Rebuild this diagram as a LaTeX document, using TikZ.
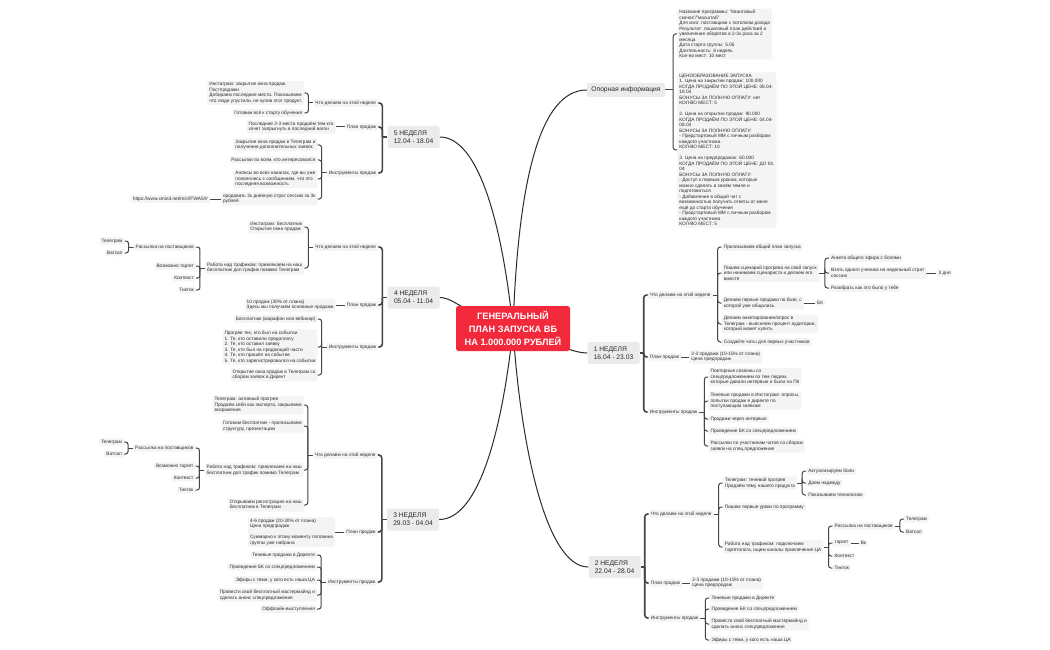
\documentclass[tikz,border=0pt]{standalone}
\usepackage{fontspec}
\setmainfont{Liberation Sans}
\pgfdeclarelayer{bg}
\pgfsetlayers{bg,main}
\definecolor{hubred}{HTML}{F2283B}
\definecolor{wkfill}{HTML}{EBEBEB}
\definecolor{lffill}{HTML}{F4F4F4}
\definecolor{txcol}{HTML}{2B2B2B}
\definecolor{lncol}{HTML}{454545}
\tikzset{
  leaf/.style={fill=lffill, rounded corners=1.5pt, inner xsep=2pt, inner ysep=1.6pt,
    font=\fontsize{4.75}{5.5}\selectfont, text=txcol, align=left},
  lr/.style={leaf, anchor=west},
  ll/.style={leaf, anchor=east},
  week/.style={fill=wkfill, rounded corners=2pt, font=\fontsize{6.7}{8.3}\selectfont,
    text=txcol, align=left, minimum width=52pt, minimum height=22pt},
  hub/.style={fill=hubred, rounded corners=2.5pt, text=white,
    font=\bfseries\fontsize{9.2}{12.7}\selectfont, align=center,
    minimum width=114pt, minimum height=45pt},
  c1/.style={draw=lncol, line width=1.6pt, rounded corners=3pt},
  c2/.style={draw=lncol, line width=1pt, rounded corners=2.5pt},
  cc/.style={draw=txcol, line width=1pt},
}
\begin{document}
\begin{tikzpicture}[x=1pt, y=-1pt]
\useasboundingbox (0,0) rectangle (1050,650);

% ---------- hub and main branches ----------
\node[hub] (hub) at (513,328.5) {ГЕНЕРАЛЬНЫЙ\\ПЛАН ЗАПУСКА ВБ\\НА 1.000.000 РУБЛЕЙ};
\node[week, minimum width=78pt, minimum height=14pt] (op) at (626,90) {Опорная информация};
\node[week] (w5) at (413.5,137) {5 НЕДЕЛЯ\\12.04 - 18.04};
\node[week] (w4) at (413.5,297.5) {4 НЕДЕЛЯ\\05.04 - 11.04};
\node[week] (w3) at (413,519.5) {3 НЕДЕЛЯ\\29.03 - 04.04};
\node[week] (w1) at (613.5,353) {1 НЕДЕЛЯ\\16.04 - 23.03};
\node[week] (w2) at (614.5,567) {2 НЕДЕЛЯ\\22.04 - 28.04};

% ---------- Опорная информация ----------
\coordinate (ops) at ([xshift=8pt]op.east);
\node[lr, xshift=4pt] (opA) at (ops |- 0,34) {Название программы: "Квантовый\\скачок"/"масштаб"\\Для кого: поставщики с потолком дохода\\Результат: пошаговый план действий и\\увеличение оборотов в 2-3х раза за 2\\месяца\\Дата старта группы: 5.05\\Длительность: 8 недель\\Кол-во мест: 10 мест};
\node[lr, xshift=4pt] (opB) at (ops |- 0,150) {ЦЕНООБРАЗОВАНИЕ ЗАПУСКА\\1. Цена на закрытии продаж: 100.000\\КОГДА ПРОДАЁМ ПО ЭТОЙ ЦЕНЕ: 08.04-\\18.04\\БОНУСЫ ЗА ПОЛНУЮ ОПЛАТУ: нет\\КОЛ-ВО МЕСТ: 5\\[5.5pt]2. Цена на открытии продаж: 90.000\\КОГДА ПРОДАЁМ ПО ЭТОЙ ЦЕНЕ: 04.04-\\08.04\\БОНУСЫ ЗА ПОЛНУЮ ОПЛАТУ:\\- Предстартовый ММ с личным разбором\\каждого участника\\КОЛ-ВО МЕСТ: 10\\[5.5pt]3. Цена на предпродажах: 60.000\\КОГДА ПРОДАЁМ ПО ЭТОЙ ЦЕНЕ: ДО 04.\\04\\БОНУСЫ ЗА ПОЛНУЮ ОПЛАТУ:\\- Доступ к первым урокам, которые\\можно сделать в своём темпе и\\подготовиться\\- Добавление в общий чат с\\возможностью получать ответы от меня\\ещё до старта обучения\\- Предстартовый ММ с личным разбором\\каждого участника\\КОЛ-ВО МЕСТ: 5};

% ---------- 5 НЕДЕЛЯ ----------
\coordinate (w5s) at ([xshift=-5pt]w5.west);
\node[ll, xshift=-4pt] (w5a) at (w5s |- 0,103) {Что делаем на этой неделе};
\node[ll, xshift=-4pt] (w5b) at (w5s |- 0,127) {План продаж};
\node[ll, xshift=-4pt] (w5c) at (w5s |- 0,173) {Инструменты продаж};
\coordinate (w5as) at ([xshift=-5pt]w5a.west);
\node[ll, xshift=-4pt] (w5a1) at (w5as |- 0,93) {Инстаграм: закрытие окна продаж.\\Постпродажи\\Добираем последние места. Показываем\\что люди упустили, не купив этот продукт.};
\node[ll, xshift=-4pt] (w5a2) at (w5as |- 0,113) {Готовим всё к старту обучения};
\node[ll, xshift=-9pt] (w5b1) at (w5b.west) {Последние 2-3 места продаём тем кто\\хочет запрыгнуть в последний вагон};
\coordinate (w5cs) at ([xshift=-5pt]w5c.west);
\node[ll, xshift=-4pt] (w5c1) at (w5cs |- 0,145) {Закрытие окна продаж в Телеграм и\\получение дополнительных заявок};
\node[ll, xshift=-4pt] (w5c2) at (w5cs |- 0,160) {Рассылки по всем, кто интересовался};
\node[ll, xshift=-4pt] (w5c3) at (w5cs |- 0,179) {Анонсы во всех каналах, где вы уже\\появлялись с сообщением, что это\\последняя возможность};
\node[ll, xshift=-4pt] (w5c4) at (w5cs |- 0,199) {продавать 3х дневную страт сессию за 3к\\рублей};
\node[ll, xshift=-11pt] (w5c4a) at (w5c4.west) {https://www.xmind.net/m/c9TWA5/\#};

% ---------- 4 НЕДЕЛЯ ----------
\coordinate (w4s) at ([xshift=-5pt]w4.west);
\node[ll, xshift=-4pt] (w4a) at (w4s |- 0,247) {Что делаем на этой неделе};
\node[ll, xshift=-4pt] (w4b) at (w4s |- 0,305) {План продаж};
\node[ll, xshift=-4pt] (w4c) at (w4s |- 0,347) {Инструменты продаж};
\coordinate (w4as) at ([xshift=-5pt]w4a.west);
\node[ll, xshift=-4pt] (w4a1) at (w4as |- 0,227) {Инстаграм: бесплатник\\Открытие окна продаж};
\node[ll, xshift=-4pt] (w4a2) at (w4as |- 0,268) {Работа над трафиком: привлекаем на наш\\бесплатник доп.трафик помимо Телеграм};
\coordinate (w4a2s) at ([xshift=-5pt]w4a2.west);
\node[ll, xshift=-4pt] (w4a2a) at (w4a2s |- 0,247) {Рассылка на поставщиков};
\node[ll, xshift=-4pt] (w4a2b) at (w4a2s |- 0,266) {Возможно таргет};
\node[ll, xshift=-4pt] (w4a2c) at (w4a2s |- 0,278) {Контекст};
\node[ll, xshift=-4pt] (w4a2d) at (w4a2s |- 0,290) {Тикток};
\coordinate (w4a2as) at ([xshift=-5pt]w4a2a.west);
\node[ll, xshift=-4pt] (w4a2a1) at (w4a2as |- 0,241) {Телеграм};
\node[ll, xshift=-4pt] (w4a2a2) at (w4a2as |- 0,253) {Ватсап};
\node[ll, xshift=-9pt] (w4b1) at (w4b.west) {10 продаж (30\% от плана)\\Здесь мы получаем основные продажи};
\coordinate (w4cs) at ([xshift=-5pt]w4c.west);
\node[ll, xshift=-4pt] (w4c1) at (w4cs |- 0,319) {Бесплатник (марафон или вебинар)};
\node[ll, xshift=-4pt] (w4c2) at (w4cs |- 0,347) {Прогрев тех, кто был на событии\\1. Те, кто оставили предоплату\\2. Те, кто оставил заявку\\3. Те, кто был на продающей части\\4. Те, кто пришёл на событие\\5. Те, кто зарегистрировался на событии};
\node[ll, xshift=-4pt] (w4c3) at (w4cs |- 0,375) {Открытие окна продаж в Телеграм со\\сбором заявок в Директ};

% ---------- 3 НЕДЕЛЯ ----------
\coordinate (w3s) at ([xshift=-5pt]w3.west);
\node[ll, xshift=-4pt] (w3a) at (w3s |- 0,455) {Что делаем на этой неделе};
\node[ll, xshift=-4pt] (w3b) at (w3s |- 0,532) {План продаж};
\node[ll, xshift=-4pt] (w3c) at (w3s |- 0,582) {Инструменты продаж};
\coordinate (w3as) at ([xshift=-5pt]w3a.west);
\node[ll, xshift=-4pt] (w3a1) at (w3as |- 0,405) {Телеграм: активный прогрев\\Продаём себя как эксперта, закрываем\\возражения};
\node[ll, xshift=-4pt] (w3a2) at (w3as |- 0,426) {Готовим бесплатник - прописываем\\структуру, презентацию};
\node[ll, xshift=-4pt] (w3a3) at (w3as |- 0,470) {Работа над трафиком: привлекаем на наш\\бесплатник доп.трафик помимо Телеграм};
\node[ll, xshift=-4pt] (w3a4) at (w3as |- 0,505) {Открываем регистрацию на наш\\бесплатник в Телеграм};
\coordinate (w3a3s) at ([xshift=-5pt]w3a3.west);
\node[ll, xshift=-4pt] (w3a3a) at (w3a3s |- 0,448) {Рассылка на поставщиков};
\node[ll, xshift=-4pt] (w3a3b) at (w3a3s |- 0,466) {Возможно таргет};
\node[ll, xshift=-4pt] (w3a3c) at (w3a3s |- 0,478) {Контекст};
\node[ll, xshift=-4pt] (w3a3d) at (w3a3s |- 0,490) {Тикток};
\coordinate (w3a3as) at ([xshift=-5pt]w3a3a.west);
\node[ll, xshift=-4pt] (w3a3a1) at (w3a3as |- 0,442) {Телеграм};
\node[ll, xshift=-4pt] (w3a3a2) at (w3a3as |- 0,454) {Ватсап};
\node[ll, xshift=-9pt] (w3b1) at (w3b.west) {4-6 продаж (20-30\% от плана)\\Цена предпродаж\\[5.5pt]Суммарно к этому моменту половина\\группы уже набрана};
\coordinate (w3cs) at ([xshift=-5pt]w3c.west);
\node[ll, xshift=-4pt] (w3c1) at (w3cs |- 0,555) {Теневые продажи в Директе};
\node[ll, xshift=-4pt] (w3c2) at (w3cs |- 0,567) {Проведение БК со спецпредложением};
\node[ll, xshift=-4pt] (w3c3) at (w3cs |- 0,580) {Эфиры с теми, у кого есть наша ЦА};
\node[ll, xshift=-4pt] (w3c4) at (w3cs |- 0,595) {Провести свой бесплатный мастермайнд и\\сделать анонс спецпредложения};
\node[ll, xshift=-4pt] (w3c5) at (w3cs |- 0,609) {Оффлайн-выступления};

% ---------- 1 НЕДЕЛЯ ----------
\coordinate (w1s) at ([xshift=4pt]w1.east);
\node[lr, xshift=4pt] (w1a) at (w1s |- 0,295) {Что делаем на этой неделе};
\node[lr, xshift=4pt] (w1b) at (w1s |- 0,357) {План продаж};
\node[lr, xshift=4pt] (w1c) at (w1s |- 0,412) {Инструменты продаж};
\coordinate (w1as) at ([xshift=5pt]w1a.east);
\node[lr, xshift=4pt] (w1a1) at (w1as |- 0,247) {Прописываем общий план запуска};
\node[lr, xshift=4pt] (w1a2) at (w1as |- 0,273) {Пишем сценарий прогрева на свой запуск\\или нанимаем сценариста и делаем его\\вместе};
\node[lr, xshift=4pt] (w1a3) at (w1as |- 0,303) {Делаем первые продажи по базе, с\\которой уже общались};
\node[lr, xshift=4pt] (w1a4) at (w1as |- 0,324) {Делаем анкетирование/опрос  в\\Телеграм - выясняем процент аудитории,\\который может купить};
\node[lr, xshift=4pt] (w1a5) at (w1as |- 0,342) {Создайте чаты для первых участников};
\coordinate (w1a2s) at ([xshift=6pt]w1a2.east);
\node[lr, xshift=4pt] (w1a2a) at (w1a2s |- 0,258) {Анкета общего эфира с болями};
\node[lr, xshift=4pt] (w1a2b) at (w1a2s |- 0,273) {Взять одного ученика на недельный страт\\сессию};
\node[lr, xshift=4pt] (w1a2c) at (w1a2s |- 0,288) {Разобрать как это было у тебя};
\node[lr, xshift=10pt] (w1a2b1) at (w1a2b.east) {3 дня};
\node[lr, xshift=11pt] (w1a3a) at (w1a3.east) {БК};
\node[lr, xshift=8pt] (w1b1) at (w1b.east) {2-3 продажи (10-15\% от плана)\\Цена предпродаж};
\coordinate (w1cs) at ([xshift=5pt]w1c.east);
\node[lr, xshift=4pt] (w1c1) at (w1cs |- 0,377) {Повторные созвоны со\\спецпредложением по тем людям,\\которые давали интервью и были на ПК};
\node[lr, xshift=4pt] (w1c2) at (w1cs |- 0,401) {Теневые продажи в Инстаграм: опросы,\\попытки продаж в директе по\\поступающим заявкам};
\node[lr, xshift=4pt] (w1c3) at (w1cs |- 0,419) {Продажи через интервью};
\node[lr, xshift=4pt] (w1c4) at (w1cs |- 0,431) {Проведение БК со спецпредложением};
\node[lr, xshift=4pt] (w1c5) at (w1cs |- 0,446) {Рассылки по участникам чатов со сбором\\заявок на спец.предложение};

% ---------- 2 НЕДЕЛЯ ----------
\coordinate (w2s) at ([xshift=4pt]w2.east);
\node[lr, xshift=4pt] (w2a) at (w2s |- 0,514) {Что делаем на этой неделе};
\node[lr, xshift=4pt] (w2b) at (w2s |- 0,583) {План продаж};
\node[lr, xshift=4pt] (w2c) at (w2s |- 0,618) {Инструменты продаж};
\coordinate (w2as) at ([xshift=5pt]w2a.east);
\node[lr, xshift=4pt] (w2a1) at (w2as |- 0,483) {Телеграм: теневой прогрев\\Продаём тему нашего продукта};
\node[lr, xshift=4pt] (w2a2) at (w2as |- 0,507) {Пишем первые уроки по программу};
\node[lr, xshift=4pt] (w2a3) at (w2as |- 0,547) {Работа над трафиком: подключаем\\таргетолога, ищем каналы привлечения ЦА};
\coordinate (w2a1s) at ([xshift=5pt]w2a1.east);
\node[lr, xshift=4pt] (w2a1a) at (w2a1s |- 0,471) {Актуализируем боли};
\node[lr, xshift=4pt] (w2a1b) at (w2a1s |- 0,483) {Даем надежду};
\node[lr, xshift=4pt] (w2a1c) at (w2a1s |- 0,495) {Показываем технологию};
\coordinate (w2a3s) at ([xshift=5pt]w2a3.east);
\node[lr, xshift=4pt] (w2a3a) at (w2a3s |- 0,526) {Рассылка на поставщиков};
\node[lr, xshift=4pt] (w2a3b) at (w2a3s |- 0,543) {таргет};
\node[lr, xshift=4pt] (w2a3c) at (w2a3s |- 0,556) {Контекст};
\node[lr, xshift=4pt] (w2a3d) at (w2a3s |- 0,568) {Тикток};
\coordinate (w2a3as) at ([xshift=5pt]w2a3a.east);
\node[lr, xshift=4pt] (w2a3a1) at (w2a3as |- 0,519) {Телеграм};
\node[lr, xshift=4pt] (w2a3a2) at (w2a3as |- 0,532) {Ватсап};
\node[lr, xshift=8pt] (w2a3b1) at (w2a3b.east) {Вк};
\node[lr, xshift=8pt] (w2b1) at (w2b.east) {2-3 продажи (10-15\% от плана)\\Цена предпродаж};
\coordinate (w2cs) at ([xshift=5pt]w2c.east);
\node[lr, xshift=4pt] (w2c1) at (w2cs |- 0,598) {Теневые продажи в Директе};
\node[lr, xshift=4pt] (w2c2) at (w2cs |- 0,609) {Проведение БК со спецпредложением};
\node[lr, xshift=4pt] (w2c3) at (w2cs |- 0,624) {Провести свой бесплатный мастермайнд и\\сделать анонс спецпредложения};
\node[lr, xshift=4pt] (w2c4) at (w2cs |- 0,640) {Эфиры с теми, у кого есть наша ЦА};

% ---------- connectors ----------
\begin{pgfonlayer}{bg}
\fill[white] (0,0) rectangle (1050,650);
\draw[cc] (hub.center) .. controls (518,180) and (540,90) .. (op.west);
\draw[cc] (hub.center) .. controls (503,230) and (480,137) .. (w5.east);
\draw[cc] (hub.center) .. controls (470,318) and (455,297.5) .. (w4.east);
\draw[cc] (hub.center) .. controls (503,425) and (480,519.5) .. (w3.east);
\draw[cc] (hub.center) .. controls (560,346) and (575,353) .. (w1.west);
\draw[cc] (hub.center) .. controls (520,440) and (545,567) .. (w2.west);

\draw[c2] (op.east) -- (ops);
\foreach \n in {opA,opB} \draw[c2] (ops) |- (\n);

\draw[c1] (w5.west) -- (w5s);
\foreach \n in {w5a,w5b,w5c} \draw[c1] (w5s) |- (\n);
\draw[c2] (w5a.west) -- (w5as);
\foreach \n in {w5a1,w5a2} \draw[c2] (w5as) |- (\n);
\draw[c2] (w5b) -- (w5b1);
\draw[c2] (w5c.west) -- (w5cs);
\foreach \n in {w5c1,w5c2,w5c3,w5c4} \draw[c2] (w5cs) |- (\n);
\draw[c2] (w5c4) -- (w5c4a);

\draw[c1] (w4.west) -- (w4s);
\foreach \n in {w4a,w4b,w4c} \draw[c1] (w4s) |- (\n);
\draw[c2] (w4a.west) -- (w4as);
\foreach \n in {w4a1,w4a2} \draw[c2] (w4as) |- (\n);
\draw[c2] (w4a2.west) -- (w4a2s);
\foreach \n in {w4a2a,w4a2b,w4a2c,w4a2d} \draw[c2] (w4a2s) |- (\n);
\draw[c2] (w4a2a.west) -- (w4a2as);
\foreach \n in {w4a2a1,w4a2a2} \draw[c2] (w4a2as) |- (\n);
\draw[c2] (w4b) -- (w4b1);
\draw[c2] (w4c.west) -- (w4cs);
\foreach \n in {w4c1,w4c2,w4c3} \draw[c2] (w4cs) |- (\n);

\draw[c1] (w3.west) -- (w3s);
\foreach \n in {w3a,w3b,w3c} \draw[c1] (w3s) |- (\n);
\draw[c2] (w3a.west) -- (w3as);
\foreach \n in {w3a1,w3a2,w3a3,w3a4} \draw[c2] (w3as) |- (\n);
\draw[c2] (w3a3.west) -- (w3a3s);
\foreach \n in {w3a3a,w3a3b,w3a3c,w3a3d} \draw[c2] (w3a3s) |- (\n);
\draw[c2] (w3a3a.west) -- (w3a3as);
\foreach \n in {w3a3a1,w3a3a2} \draw[c2] (w3a3as) |- (\n);
\draw[c2] (w3b) -- (w3b1);
\draw[c2] (w3c.west) -- (w3cs);
\foreach \n in {w3c1,w3c2,w3c3,w3c4,w3c5} \draw[c2] (w3cs) |- (\n);

\draw[c1] (w1.east) -- (w1s);
\foreach \n in {w1a,w1b,w1c} \draw[c1] (w1s) |- (\n);
\draw[c2] (w1a.east) -- (w1as);
\foreach \n in {w1a1,w1a2,w1a3,w1a4,w1a5} \draw[c2] (w1as) |- (\n);
\draw[c2] (w1a2.east) -- (w1a2s);
\foreach \n in {w1a2a,w1a2b,w1a2c} \draw[c2] (w1a2s) |- (\n);
\draw[c2] (w1a2b) -- (w1a2b1);
\draw[c2] (w1a3) -- (w1a3a);
\draw[c2] (w1b) -- (w1b1);
\draw[c2] (w1c.east) -- (w1cs);
\foreach \n in {w1c1,w1c2,w1c3,w1c4,w1c5} \draw[c2] (w1cs) |- (\n);

\draw[c1] (w2.east) -- (w2s);
\foreach \n in {w2a,w2b,w2c} \draw[c1] (w2s) |- (\n);
\draw[c2] (w2a.east) -- (w2as);
\foreach \n in {w2a1,w2a2,w2a3} \draw[c2] (w2as) |- (\n);
\draw[c2] (w2a1.east) -- (w2a1s);
\foreach \n in {w2a1a,w2a1b,w2a1c} \draw[c2] (w2a1s) |- (\n);
\draw[c2] (w2a3.east) -- (w2a3s);
\foreach \n in {w2a3a,w2a3b,w2a3c,w2a3d} \draw[c2] (w2a3s) |- (\n);
\draw[c2] (w2a3a.east) -- (w2a3as);
\foreach \n in {w2a3a1,w2a3a2} \draw[c2] (w2a3as) |- (\n);
\draw[c2] (w2a3b) -- (w2a3b1);
\draw[c2] (w2b) -- (w2b1);
\draw[c2] (w2c.east) -- (w2cs);
\foreach \n in {w2c1,w2c2,w2c3,w2c4} \draw[c2] (w2cs) |- (\n);
\end{pgfonlayer}
\end{tikzpicture}
\end{document}
